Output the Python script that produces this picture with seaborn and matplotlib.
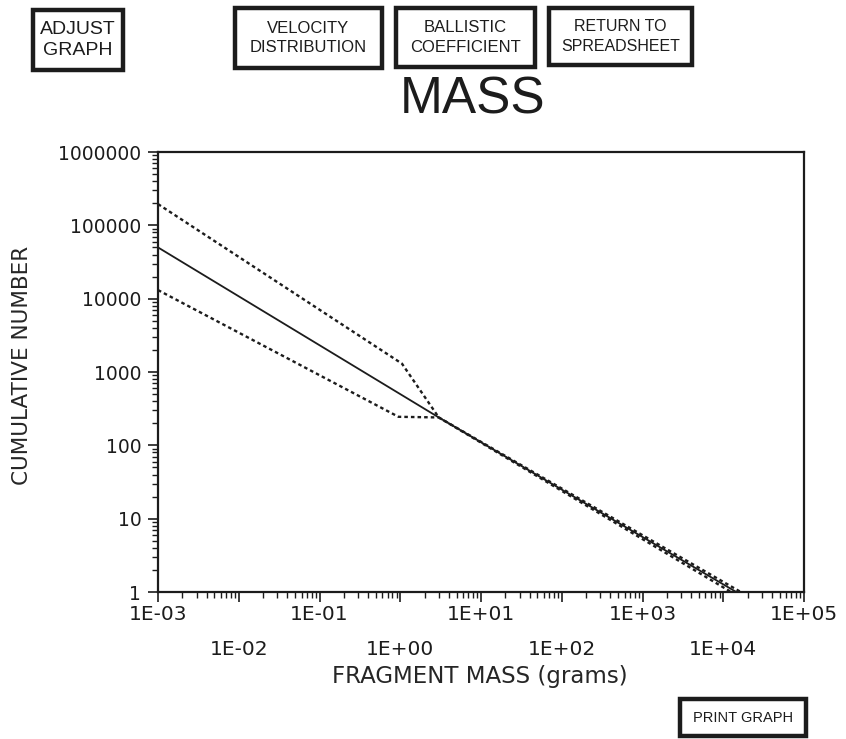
import matplotlib
matplotlib.use("Agg")
import matplotlib.pyplot as plt
import seaborn as sns
from matplotlib.patches import Rectangle
from matplotlib.ticker import FixedLocator, LogLocator, NullFormatter

# data (log-log)
mass_mid = [0.001, 3.0, 14500]
count_mid = [50000, 240, 1]

mass_upper = [0.001, 1.05, 3.0, 16500]
count_upper = [195000, 1300, 240, 1]

mass_lower = [0.001, 0.95, 3.0, 12500]
count_lower = [13100, 245, 240, 1]

x_decades = [1e-3, 1e-2, 1e-1, 1e0, 1e1, 1e2, 1e3, 1e4, 1e5]
x_labels = ["1E-03", "1E-02", "1E-01", "1E+00", "1E+01",
            "1E+02", "1E+03", "1E+04", "1E+05"]
y_decades = [1, 10, 100, 1000, 10000, 100000, 1000000]
y_labels = ["1", "10", "100", "1000", "10000", "100000", "1000000"]

buttons = [
    ("ADJUST\nGRAPH", (33, 10, 123, 70), 14),
    ("VELOCITY\nDISTRIBUTION", (235, 8, 382, 68), 12),
    ("BALLISTIC\nCOEFFICIENT", (396, 8, 535, 67), 12),
    ("RETURN TO\nSPREADSHEET", (549, 8, 692, 65), 11.5),
    ("PRINT GRAPH", (680, 699, 806, 736), 10.5),
]

INK = "#1c1c1c"
W, H = 846, 739
WIDE = ["DejaVu Sans"]

sns.set_theme(style="ticks")
plt.rcParams.update({
    "font.family": ["Liberation Sans", "DejaVu Sans"],
    "text.color": INK,
    "axes.edgecolor": INK,
    "xtick.color": INK,
    "ytick.color": INK,
    "axes.linewidth": 1.6,
})

fig = plt.figure(figsize=(W / 100, H / 100), dpi=100, facecolor="white")
ax = fig.add_axes([158 / W, 1 - 592 / H, (804 - 158) / W, (592 - 152) / H])

sns.lineplot(x=mass_mid, y=count_mid, ax=ax, color=INK, linewidth=1.3,
             estimator=None, sort=False)
sns.lineplot(x=mass_upper, y=count_upper, ax=ax, color=INK, linewidth=1.7,
             linestyle=(0, (1.5, 1.3)), estimator=None, sort=False)
sns.lineplot(x=mass_lower, y=count_lower, ax=ax, color=INK, linewidth=1.7,
             linestyle=(0, (1.5, 1.3)), estimator=None, sort=False)

ax.set_xscale("log")
ax.set_yscale("log")
ax.set_xlim(1e-3, 1e5)
ax.set_ylim(1, 1e6)

# x ticks: odd decades on first row, even decades on a second row below
ax.xaxis.set_major_locator(FixedLocator(x_decades))
ax.set_xticklabels([lab if i % 2 == 0 else "" for i, lab in enumerate(x_labels)],
                   family=WIDE, fontsize=14.5)
for i, (xv, lab) in enumerate(zip(x_decades, x_labels)):
    if i % 2 == 1:
        ax.text(xv, -0.108, lab, transform=ax.get_xaxis_transform(),
                ha="center", va="top", fontsize=14.5, family=WIDE, color=INK)
ax.xaxis.set_minor_locator(LogLocator(base=10, subs=range(2, 10), numticks=20))
ax.xaxis.set_minor_formatter(NullFormatter())

ax.yaxis.set_major_locator(FixedLocator(y_decades))
ax.set_yticklabels(y_labels, family=WIDE, fontsize=13.5)
ax.yaxis.set_minor_locator(LogLocator(base=10, subs=range(2, 10), numticks=20))
ax.yaxis.set_minor_formatter(NullFormatter())

ax.tick_params(which="major", direction="out", length=7, width=1.2)
ax.tick_params(axis="y", which="major", pad=5)
ax.tick_params(axis="x", which="major", pad=2)
ax.tick_params(which="minor", direction="out", length=4.5, width=1.0)
ax.grid(False)
for s in ax.spines.values():
    s.set_visible(True)
    s.set_color(INK)

ax.set_xlabel("FRAGMENT MASS (grams)", fontsize=16.5, family=WIDE)
ax.xaxis.set_label_coords(0.498, -0.165)
ax.set_ylabel("CUMULATIVE NUMBER", fontsize=15.5, family=WIDE)
ax.yaxis.set_label_coords(-0.195, 0.515)

fig.text(473 / W, 1 - 100 / H, "MASS", fontsize=37, ha="center",
         va="center", color=INK)

for text, (x0, y0, x1, y1), fs in buttons:
    rect = Rectangle((x0 / W, 1 - y1 / H), (x1 - x0) / W, (y1 - y0) / H,
                     transform=fig.transFigure, facecolor="white",
                     edgecolor=INK, linewidth=3.2)
    fig.add_artist(rect)
    fig.text((x0 + x1) / 2 / W, 1 - (y0 + y1) / 2 / H, text, fontsize=fs,
             ha="center", va="center", linespacing=1.35, color=INK)

fig.savefig("out.png", dpi=100, facecolor="white")
